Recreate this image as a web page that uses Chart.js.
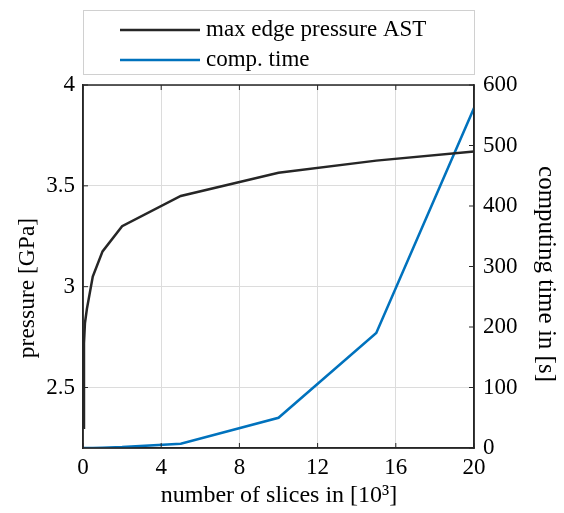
<!DOCTYPE html>
<html>
<head>
<meta charset="utf-8">
<script src="https://cdn.jsdelivr.net/npm/chart.js@4.4.1/dist/chart.umd.min.js"></script>
<style>
  body { margin: 0; background: #fff; }
  #wrap { width: 564px; height: 513px; }
</style>
</head>
<body>
<div id="wrap"><canvas id="chart" width="564" height="513"></canvas></div>
<script>
// data (x in thousands of slices)
const slices = [0.02, 0.05, 0.1, 0.2, 0.5, 1, 2, 5, 10, 15, 20];
const pressure = [2.30, 2.72, 2.82, 2.89, 3.05, 3.175, 3.30, 3.45, 3.565, 3.625, 3.67];
const compTime = [0, 0, 0, 0, 0.2, 0.5, 1.5, 7, 50, 190, 562];
const xTicks = [0, 4, 8, 12, 16, 20];
const pressureTicks = [2.5, 3, 3.5, 4];
const timeTicks = [0, 100, 200, 300, 400, 500, 600];

const serif = "'Liberation Serif', 'Times New Roman', serif";
const axisColor = '#262626';

function fixTicks(list) {
  return function(scale) {
    scale.ticks = list.map(v => ({ value: v }));
  };
}

// MATLAB-like box + inward tick marks
const boxPlugin = {
  id: 'box',
  afterDatasetsDraw(chart) {
    const ctx = chart.ctx, a = chart.chartArea;
    const sx = chart.scales.x, sy = chart.scales.y, sy2 = chart.scales.y2;
    ctx.save();
    ctx.strokeStyle = axisColor;
    ctx.lineWidth = 1.5;
    ctx.strokeRect(a.left, a.top, a.right - a.left, a.bottom - a.top);
    ctx.lineWidth = 1;
    ctx.beginPath();
    xTicks.forEach(v => {
      const px = sx.getPixelForValue(v);
      ctx.moveTo(px, a.bottom); ctx.lineTo(px, a.bottom - 5);
      ctx.moveTo(px, a.top); ctx.lineTo(px, a.top + 5);
    });
    pressureTicks.forEach(v => {
      const py = sy.getPixelForValue(v);
      ctx.moveTo(a.left, py); ctx.lineTo(a.left + 5, py);
    });
    timeTicks.forEach(v => {
      const py = sy2.getPixelForValue(v);
      ctx.moveTo(a.right, py); ctx.lineTo(a.right - 5, py);
    });
    ctx.stroke();
    ctx.restore();
  }
};

// axis titles, placed like the original figure
const axisTitles = {
  id: 'axisTitles',
  afterDraw(chart) {
    const ctx = chart.ctx;
    ctx.save();
    ctx.fillStyle = '#000';
    ctx.textAlign = 'center';
    ctx.textBaseline = 'middle';

    ctx.font = '24px ' + serif;
    ctx.fillText('number of slices in [10³]', 279, 496);

    ctx.save();
    ctx.translate(28, 288);
    ctx.rotate(-Math.PI / 2);
    ctx.font = '23.5px ' + serif;
    ctx.fillText('pressure [GPa]', 0, 0);
    ctx.restore();

    ctx.save();
    ctx.translate(546, 274);
    ctx.rotate(Math.PI / 2);
    ctx.font = '25px ' + serif;
    ctx.fillText('computing time in [s]', 0, 0);
    ctx.restore();

    ctx.restore();
  }
};

// boxed legend above the plot
const legendBox = {
  id: 'legendBox',
  afterDraw(chart) {
    const ctx = chart.ctx;
    ctx.save();
    ctx.fillStyle = '#fff';
    ctx.fillRect(83, 10, 391, 64);
    ctx.strokeStyle = '#d0d0d0';
    ctx.lineWidth = 1;
    ctx.strokeRect(83.5, 10.5, 391, 64);
    chart.data.datasets.forEach((ds, i) => {
      const y = 30 + i * 30;
      ctx.strokeStyle = ds.borderColor;
      ctx.lineWidth = ds.borderWidth;
      ctx.beginPath();
      ctx.moveTo(120, y); ctx.lineTo(200, y);
      ctx.stroke();
      ctx.fillStyle = '#000';
      ctx.font = '23px ' + serif;
      ctx.textBaseline = 'middle';
      ctx.fillText(ds.label, 206, y);
    });
    ctx.restore();
  }
};

new Chart(document.getElementById('chart'), {
  type: 'line',
  data: {
    datasets: [
      {
        label: 'max edge pressure AST',
        data: slices.map((s, i) => ({ x: s, y: pressure[i] })),
        borderColor: '#262626',
        borderWidth: 2.5,
        pointRadius: 0,
        tension: 0,
        yAxisID: 'y'
      },
      {
        label: 'comp. time',
        data: slices.map((s, i) => ({ x: s, y: compTime[i] })),
        borderColor: '#0072BD',
        borderWidth: 2.5,
        pointRadius: 0,
        tension: 0,
        yAxisID: 'y2'
      }
    ]
  },
  options: {
    responsive: false,
    animation: false,
    devicePixelRatio: 1,
    layout: { padding: { top: 85, left: 0, right: 0, bottom: 0 } },
    plugins: {
      legend: { display: false },
      tooltip: { enabled: false }
    },
    scales: {
      x: {
        type: 'linear',
        min: 0, max: 20,
        afterBuildTicks: fixTicks(xTicks),
        afterFit: s => { s.height = 65; },
        grid: { color: '#dcdcdc', drawTicks: false },
        border: { color: axisColor, width: 1.5 },
        ticks: { color: '#000', font: { family: serif, size: 23 }, padding: 6, maxRotation: 0 }
      },
      y: {
        position: 'left',
        min: 2.2, max: 4,
        afterBuildTicks: fixTicks(pressureTicks),
        afterFit: s => { s.width = 83; },
        grid: { color: '#dcdcdc', drawTicks: false },
        border: { color: axisColor, width: 1.5 },
        ticks: { color: '#000', font: { family: serif, size: 23 }, padding: 8, callback: v => String(v) }
      },
      y2: {
        position: 'right',
        min: 0, max: 600,
        afterBuildTicks: fixTicks(timeTicks),
        afterFit: s => { s.width = 90; },
        grid: { drawOnChartArea: false, drawTicks: false },
        border: { color: axisColor, width: 1.5 },
        ticks: { color: '#000', font: { family: serif, size: 23 }, padding: 9, callback: v => String(v) }
      }
    }
  },
  plugins: [boxPlugin, axisTitles, legendBox]
});
</script>
</body>
</html>
